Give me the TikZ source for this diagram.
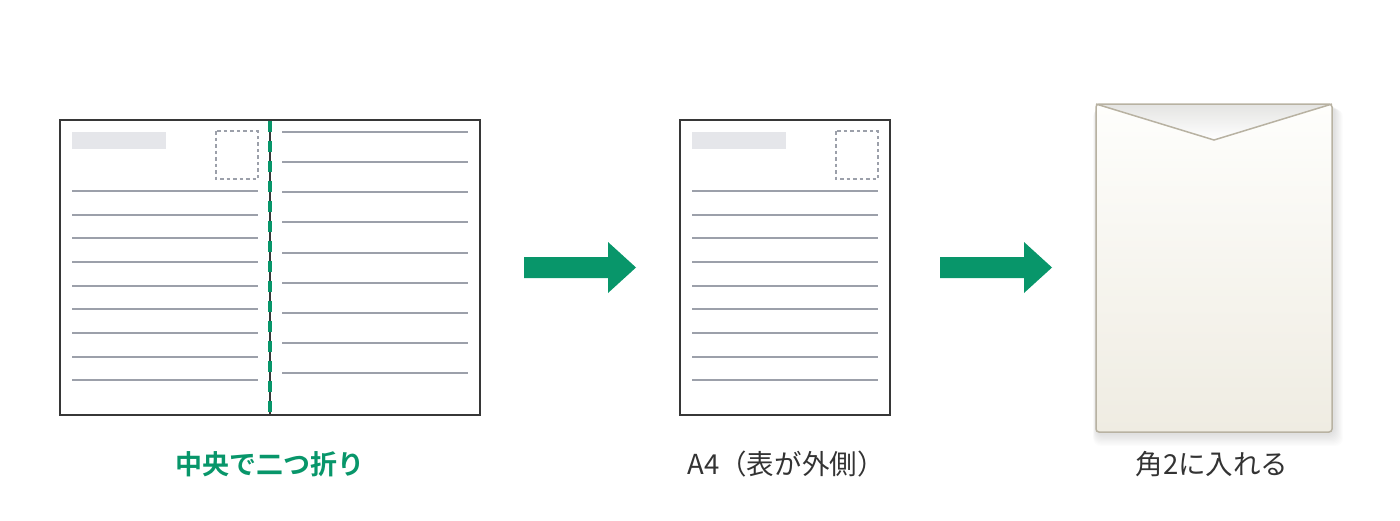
\documentclass[tikz,border=0pt]{standalone}
\usepackage{fontspec}
\setmainfont{Noto Sans CJK JP}
\newfontfamily\jpbold{Noto Sans CJK JP}[BoldFont={Noto Sans CJK JP Bold}]
\definecolor{fgreen}{RGB}{8,150,106}
\definecolor{frame}{RGB}{55,55,55}
\definecolor{rule}{RGB}{156,160,170}
\definecolor{block}{RGB}{229,230,234}
\definecolor{envedge}{RGB}{184,178,162}
\definecolor{envlight}{RGB}{254,254,252}
\definecolor{envdark}{RGB}{239,236,226}
\definecolor{txt}{RGB}{51,51,51}
\tikzset{
  sheet/.style={draw=frame, line width=2pt, fill=white},
  rulel/.style={draw=rule, line width=1.8pt},
  blockbox/.style={fill=block},
  stamp/.style={draw=rule, line width=1.4pt, dash pattern=on 3.5pt off 3pt},
  foldline/.style={draw=fgreen, line width=3.6pt, dash pattern=on 11pt off 9pt},
  bigarrow/.style={fill=fgreen},
  caption/.style={font=\fontsize{27.5}{32}\selectfont, text=txt, inner sep=0pt},
}
\begin{document}
\begin{tikzpicture}[x=1pt,y=-1pt]
\useasboundingbox (0,0) rectangle (1400,520);

% ---- left sheet (open A3) ----
\draw[sheet] (60,120) rectangle (480,415);
\fill[blockbox] (72,132) rectangle (166,149);
\draw[stamp] (216,131) rectangle (258,179);
\foreach \yy in {191,214.7,238.3,262,285.7,309.3,333,356.7,380.3}
  \draw[rulel] (72,\yy) -- (258,\yy);
\foreach \yy in {132,162,192,222.3,252.7,282.7,312.7,343,373.3}
  \draw[rulel] (282,\yy) -- (468,\yy);
\coordinate (foldtop) at (270,121);
\coordinate (foldbot) at (270,414);
\draw[frame, line width=2pt] (foldtop) -- (foldbot);
\draw[foldline] (foldtop) -- (foldbot);

% ---- arrow 1 ----
\fill[bigarrow] (524,257) -- (608,257) -- (608,242) -- (636,267.5) -- (608,293) -- (608,278) -- (524,278) -- cycle;

% ---- middle sheet (A4) ----
\draw[sheet] (680,120) rectangle (890,415);
\fill[blockbox] (692,132) rectangle (786,149);
\draw[stamp] (836,131) rectangle (878,179);
\foreach \yy in {191,214.7,238.3,262,285.7,309.3,333,356.7,380.3}
  \draw[rulel] (692,\yy) -- (878,\yy);

% ---- arrow 2 ----
\fill[bigarrow] (940,257) -- (1024,257) -- (1024,242) -- (1052,267.5) -- (1024,293) -- (1024,278) -- (940,278) -- cycle;

% ---- envelope ----
\foreach \s in {1,...,10}
  \fill[black, opacity=0.012, rounded corners=8pt]
    (1096+\s*0.6-\s*0.9, 104+\s*0.5) rectangle (1332+\s*0.9+2, 432+\s*1.2+2);
\shade[left color=envlight, right color=envdark, shading angle=0, rounded corners=3pt]
  (1096,104) rectangle (1332,432);
\shade[top color=envlight, bottom color=envdark, opacity=0.5, rounded corners=3pt]
  (1096,104) rectangle (1332,432);
\shade[top color={rgb,255:red,228;green,228;blue,226}, bottom color=white]
  (1096,104) -- (1332,104) -- (1214,140) -- cycle;
\draw[envedge, line width=1.5pt, rounded corners=3pt] (1096,104) rectangle (1332,432);
\draw[envedge, line width=1.5pt] (1096,104) -- (1214,140) -- (1332,104);

% ---- captions ----
\node[caption, text=fgreen, font=\jpbold\bfseries\fontsize{27}{32}\selectfont] (c1) at (270,464) {中央で二つ折り};
\node[caption] (c2) at (786,464) {A4（表が外側）};
\node[caption] (c3) at (1212,464) {角2に入れる};
\end{tikzpicture}
\end{document}
